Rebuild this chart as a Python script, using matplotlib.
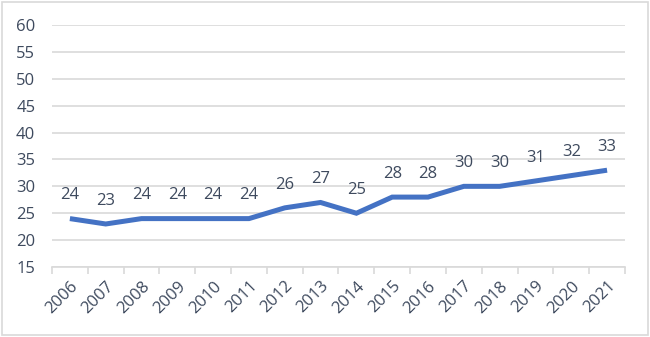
import matplotlib.pyplot as plt
from matplotlib.patches import Rectangle

years = ["2006", "2007", "2008", "2009", "2010", "2011", "2012", "2013",
         "2014", "2015", "2016", "2017", "2018", "2019", "2020", "2021"]
values = [24, 23, 24, 24, 24, 24, 26, 27, 25, 28, 28, 30, 30, 31, 32, 33]
y_ticks = [15, 20, 25, 30, 35, 40, 45, 50, 55, 60]

text_color = "#3E4A5E"
line_color = "#4472C4"
grid_color = "#D9D9D9"

plt.rcParams["font.family"] = ["Open Sans", "DejaVu Sans"]
fs = 12

fig = plt.figure(figsize=(6.5, 3.37), dpi=100)
ax = fig.add_axes([0.08, 0.2077, 0.8815, 0.7181])

x = list(range(len(years)))
ax.plot(x, values, color=line_color, linewidth=3.6, solid_joinstyle="miter",
        solid_capstyle="butt", zorder=3)

for xi, v in zip(x, values):
    ax.annotate(str(v), (xi, v), xytext=(0, 11), textcoords="offset points",
                ha="center", va="bottom", fontsize=fs, color=text_color)

ax.set_xlim(-0.5, len(years) - 0.5)
ax.set_ylim(15, 60)
ax.set_yticks(y_ticks)
ax.set_yticklabels([str(t) for t in y_ticks], fontsize=fs, color=text_color)
ax.grid(axis="y", color=grid_color, linewidth=1.2)
ax.set_axisbelow(True)

ax.set_xticks(x)
ax.set_xticklabels(years, rotation=45, ha="right", rotation_mode="anchor",
                   fontsize=fs, color=text_color)
ax.tick_params(axis="x", length=0, pad=8)
ax.set_xticks([i - 0.5 for i in range(len(years) + 1)], minor=True)
ax.tick_params(axis="x", which="minor", length=5, color=grid_color, width=1.2)
ax.tick_params(axis="y", length=0, pad=12)

for side in ["left", "right", "top"]:
    ax.spines[side].set_visible(False)
ax.spines["bottom"].set_color(grid_color)
ax.spines["bottom"].set_linewidth(1.2)

fig.patches.append(Rectangle((0.003, 0.005), 0.994, 0.99, transform=fig.transFigure,
                             fill=False, edgecolor="#D9D9D9", linewidth=1.2))

fig.savefig("out.png", dpi=100)
